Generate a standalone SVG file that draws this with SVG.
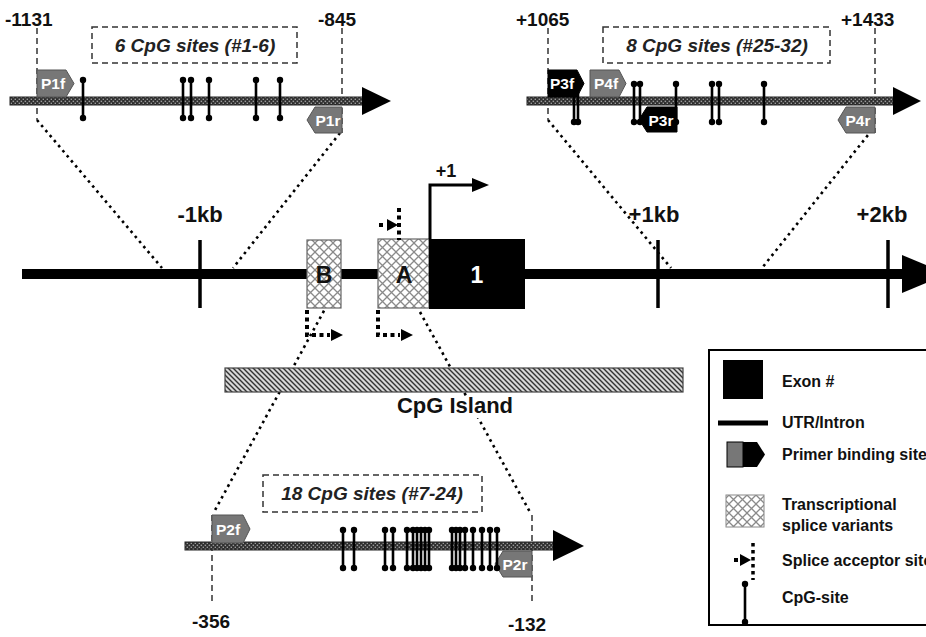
<svg xmlns="http://www.w3.org/2000/svg" width="926" height="637" viewBox="0 0 926 637">
<style>
text{font-family:"Liberation Sans",Arial,sans-serif;font-weight:bold;fill:#111}
.pos{font-size:19px}
.kb{font-size:22px;text-anchor:middle}
.cnt{font-size:19px;font-style:italic;text-anchor:middle;fill:#222}
.pl{font-size:15.5px;fill:#fff;text-anchor:middle}
.lg{font-size:16px}
.dash{fill:none;stroke:#333;stroke-width:1.5;stroke-dasharray:6 4}
.dot{fill:none;stroke:#000;stroke-width:2.6;stroke-dasharray:2.6 4}
.sq{fill:none;stroke:#000;stroke-width:4;stroke-dasharray:4 3.5}
.track{fill:url(#trk);stroke:#222;stroke-width:1}
.gp{fill:#777;stroke:#555;stroke-width:1}
.bp{fill:#000;stroke:#000;stroke-width:1}
.tick{stroke:#000;stroke-width:3.5}
</style>
<defs>
<pattern id="trk" width="4" height="4" patternUnits="userSpaceOnUse"><rect width="4" height="4" fill="#2e2e2e"/><rect x="0.6" y="0.6" width="1.5" height="1.5" fill="#9a9a9a"/><rect x="2.6" y="2.6" width="1.5" height="1.5" fill="#9a9a9a"/></pattern>
<pattern id="xh" width="9" height="9" patternUnits="userSpaceOnUse"><rect width="9" height="9" fill="#fff"/><path d="M0,0 L9,9 M9,0 L0,9" stroke="#8a8a8a" stroke-width="1.3"/></pattern>
<pattern id="dh" width="5" height="5" patternUnits="userSpaceOnUse"><rect width="5" height="5" fill="#d8d8d8"/><path d="M-1,-1 L6,6 M-1,4 L1,6 M4,-1 L6,1" stroke="#333" stroke-width="1.4"/></pattern>
<g id="lol"><line x1="0" y1="0" x2="0" y2="38" stroke="#000" stroke-width="2.6"/><circle cx="0" cy="0" r="3.2" fill="#000"/><circle cx="0" cy="38" r="3.2" fill="#000"/></g>
</defs>
<rect width="926" height="637" fill="#fff"/>

<g id="connectors">
<path class="dot" d="M37,120 L162,268"/>
<path class="dot" d="M340,133 L233,268"/>
<path class="dot" d="M548,120 L671,268"/>
<path class="dot" d="M872,130 L762,268"/>
<path class="dot" d="M343,276 L214,512"/>
<path class="dot" d="M420,312 L531,514"/>
</g>

<g id="main-gene">
<rect x="22" y="269" width="882" height="10" fill="#000"/>
<polygon points="902,255 948,274 902,293" fill="#000"/>
<line class="tick" x1="200" y1="240" x2="200" y2="308"/>
<line class="tick" x1="658" y1="240" x2="658" y2="308"/>
<line class="tick" x1="888" y1="240" x2="888" y2="308"/>
<text class="kb" x="200" y="222">-1kb</text>
<text class="kb" x="654" y="222">+1kb</text>
<text class="kb" x="882" y="222">+2kb</text>
</g>

<g id="variant-B">
<rect x="307" y="240" width="34" height="68" fill="url(#xh)" stroke="#666" stroke-width="1.2"/>
<text x="324" y="283" font-size="23" text-anchor="middle">B</text>
<path class="sq" d="M307,310 V335 H330"/>
<polygon points="331,329 343,335 331,341" fill="#000"/>
</g>

<g id="variant-A">
<rect x="378" y="239" width="51" height="69" fill="url(#xh)" stroke="#666" stroke-width="1.2"/>
<text x="404" y="283" font-size="23" text-anchor="middle">A</text>
<path class="sq" d="M378,310 V335 H400"/>
<polygon points="401,329 413,335 401,341" fill="#000"/>
<path class="sq" d="M399,208 V240"/>
<rect x="379" y="223" width="4" height="4" fill="#000"/>
<polygon points="387,219 398,225 387,231" fill="#000"/>
</g>

<g id="exon-1">
<rect x="429" y="239" width="96" height="70" fill="#000"/>
<text x="477" y="283" font-size="23" text-anchor="middle" style="fill:#fff">1</text>
<path d="M430,239 V185 H476" fill="none" stroke="#000" stroke-width="3"/>
<polygon points="472,178 489,185 472,192" fill="#000"/>
<text x="446" y="177" font-size="18" text-anchor="middle">+1</text>
</g>

<g id="cpg-island">
<rect x="225" y="368" width="458" height="24" fill="url(#dh)" stroke="#444" stroke-width="1.2"/>
<rect x="392" y="396" width="126" height="22" fill="#fff"/>
<text x="455" y="413" font-size="22" text-anchor="middle">CpG Island</text>
</g>

<g id="panel-upstream">
<text class="pos" x="5" y="26">-1131</text>
<text class="pos" x="318" y="26">-845</text>
<path class="dash" d="M37,28 V120 M342,28 V133"/>
<rect class="dash" x="92" y="27" width="205" height="36"/>
<text class="cnt" x="195" y="52">6 CpG sites (#1-6)</text>
<rect class="track" x="10" y="97" width="354" height="8"/>
<polygon points="362,87 391,101 362,115" fill="#000"/>
<polygon class="gp" points="37,70 66,70 74,83.5 66,97 37,97"/>
<text class="pl" x="53" y="89">P1f</text>
<polygon class="gp" points="315,107 342,107 342,133 315,133 307,120"/>
<text class="pl" x="328" y="126">P1r</text>
<use href="#lol" x="83" y="80"/>
<use href="#lol" x="183" y="80"/>
<use href="#lol" x="191" y="80"/>
<use href="#lol" x="209" y="80"/>
<use href="#lol" x="256" y="80"/>
<use href="#lol" x="280" y="80"/>
</g>

<g id="panel-downstream">
<text class="pos" x="516" y="26">+1065</text>
<text class="pos" x="841" y="26">+1433</text>
<path class="dash" d="M548,28 V120 M875,28 V133"/>
<rect class="dash" x="603" y="27" width="227" height="36"/>
<text class="cnt" x="717" y="52">8 CpG sites (#25-32)</text>
<rect class="track" x="527" y="97" width="368" height="8"/>
<polygon points="893,87 921,101 893,115" fill="#000"/>
<polygon class="bp" points="647,107 677,107 677,132 647,132 639,119.5"/>
<text class="pl" x="661" y="126">P3r</text>
<polygon class="gp" points="846,107 875,107 875,133 846,133 838,120"/>
<text class="pl" x="858" y="126">P4r</text>
<use href="#lol" x="574" y="84"/>
<use href="#lol" x="578" y="84"/>
<polygon class="bp" points="548,70 577,70 584,83.5 577,97 548,97"/>
<text class="pl" x="562" y="89">P3f</text>
<polygon class="gp" points="590,70 619,70 626,83.5 619,97 590,97"/>
<text class="pl" x="606" y="89">P4f</text>
<use href="#lol" x="634" y="84"/>
<use href="#lol" x="640" y="84"/>
<use href="#lol" x="676" y="84"/>
<use href="#lol" x="712" y="84"/>
<use href="#lol" x="719" y="84"/>
<use href="#lol" x="764" y="84"/>
</g>

<g id="panel-island">
<text class="pos" x="192" y="628">-356</text>
<text class="pos" x="508" y="631">-132</text>
<path class="dash" d="M212,515 V602 M532,515 V602"/>
<rect class="dash" x="263" y="475" width="219" height="37"/>
<text class="cnt" x="372" y="500">18 CpG sites (#7-24)</text>
<rect class="track" x="185" y="542" width="370" height="8"/>
<polygon points="553,530 584,546 553,561" fill="#000"/>
<polygon class="gp" points="212,515 243,515 250,529 243,543 212,543"/>
<text class="pl" x="228" y="535">P2f</text>
<polygon class="gp" points="503,551 532,551 532,577 503,577 495,564"/>
<text class="pl" x="515" y="570">P2r</text>
<use href="#lol" x="343" y="530"/>
<use href="#lol" x="354" y="530"/>
<use href="#lol" x="385" y="530"/>
<use href="#lol" x="393" y="530"/>
<use href="#lol" x="407" y="530"/>
<use href="#lol" x="413" y="530"/>
<use href="#lol" x="417" y="530"/>
<use href="#lol" x="421" y="530"/>
<use href="#lol" x="425" y="530"/>
<use href="#lol" x="429" y="530"/>
<use href="#lol" x="452" y="530"/>
<use href="#lol" x="456" y="530"/>
<use href="#lol" x="460" y="530"/>
<use href="#lol" x="465" y="530"/>
<use href="#lol" x="473" y="530"/>
<use href="#lol" x="482" y="530"/>
<use href="#lol" x="490" y="530"/>
<use href="#lol" x="497" y="530"/>
</g>

<g id="legend">
<rect x="709" y="350" width="240" height="275" fill="#fff" stroke="#000" stroke-width="2"/>
<rect x="723" y="360" width="40" height="39" fill="#000"/>
<text class="lg" x="782" y="387">Exon #</text>
<rect x="718" y="420.5" width="50" height="5" fill="#000"/>
<text class="lg" x="782" y="428">UTR/Intron</text>
<rect x="727" y="442" width="16" height="25" fill="#777" stroke="#000" stroke-width="1"/>
<polygon points="743,442 757,442 765,454.5 757,467 743,467" fill="#000"/>
<text class="lg" x="782" y="460">Primer binding site</text>
<rect x="726" y="495" width="38" height="32" fill="url(#xh)" stroke="#888" stroke-width="1"/>
<text class="lg" x="782" y="510">Transcriptional</text>
<text class="lg" x="782" y="531">splice variants</text>
<rect x="734" y="558" width="4" height="4" fill="#000"/>
<polygon points="740,554 751,560 740,566" fill="#000"/>
<path class="sq" d="M753,543 V580" style="stroke-width:3.5;stroke-dasharray:3.5 3.5"/>
<text class="lg" x="782" y="566">Splice acceptor site</text>
<use href="#lol" x="745" y="584"/>
<text class="lg" x="782" y="603">CpG-site</text>
</g>
</svg>
